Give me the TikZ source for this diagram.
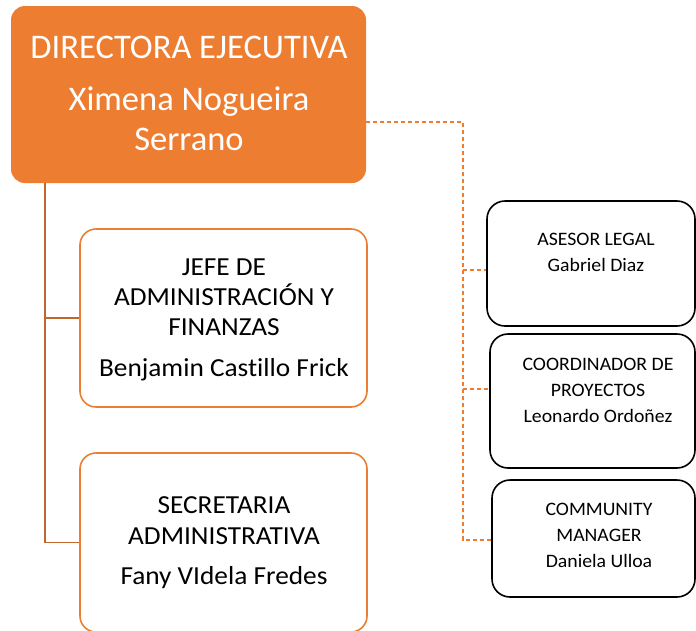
\documentclass[tikz,border=0pt]{standalone}
\usepackage{fontspec}
\setmainfont[Ligatures=NoCommon]{Carlito}
\newfontfamily\midfont[Ligatures=NoCommon,FakeStretch=1.05]{Carlito}
\newfontfamily\smfont[Ligatures=NoCommon,FakeStretch=1.04]{Carlito}
\usetikzlibrary{calc}
\definecolor{orng}{HTML}{ED7D31}
\definecolor{brn}{HTML}{C0672E}
\begin{document}
\begin{tikzpicture}[x=1pt,y=-1pt,
  dirbox/.style={rectangle,rounded corners=14pt,fill=orng,draw=none,inner sep=0pt},
  obox/.style={rectangle,rounded corners=16pt,fill=white,draw=orng,line width=1.6pt,inner sep=0pt},
  kbox/.style={rectangle,rounded corners=18pt,fill=white,draw=black,line width=1.6pt,inner sep=0pt},
  bigtxt/.style={anchor=base,inner sep=0pt,text=white,font=\fontsize{34.5}{38}\selectfont},
  midtxt/.style={anchor=base,inner sep=0pt,text=black,font=\midfont\fontsize{26}{30}\selectfont},
  smalltxt/.style={anchor=base,inner sep=0pt,text=black,font=\smfont\fontsize{19}{26}\selectfont},
  solidconn/.style={draw=brn,line width=1.6pt},
  dashconn/.style={draw=orng,line width=1.1pt,dash pattern=on 4pt off 3pt}]
\useasboundingbox (0,0) rectangle (696,630);
\clip (0,0) rectangle (696,630);
% boxes
\node[dirbox,minimum width=355pt,minimum height=177pt] (dir) at (188.5,94.5) {};
\node[obox,minimum width=287pt,minimum height=178pt] (jefe) at (223.5,318) {};
\node[obox,minimum width=287pt,minimum height=179pt] (sec) at (223.5,542.5) {};
\node[kbox,minimum width=208pt,minimum height=125pt] (ase) at (591,263.5) {};
\node[kbox,minimum width=205pt,minimum height=134pt] (coo) at (592.5,401) {};
\node[kbox,minimum width=203pt,minimum height=117pt] (com) at (593.5,538.5) {};
% texts
\node[bigtxt] (d1) at (189,58) {DIRECTORA EJECUTIVA};
\node[bigtxt] (d2) at (189,110) {Ximena Nogueira};
\node[bigtxt] (d3) at (189,150) {Serrano};
\node[midtxt] (j1) at (224,275) {JEFE DE};
\node[midtxt] (j2) at (224,305) {ADMINISTRACIÓN Y};
\node[midtxt] (j3) at (224,335) {FINANZAS};
\node[midtxt] (j4) at (224,376) {Benjamin Castillo Frick};
\node[midtxt] (s1) at (224,513) {SECRETARIA};
\node[midtxt] (s2) at (224,544) {ADMINISTRATIVA};
\node[midtxt] (s3) at (224,584) {Fany VIdela Fredes};
\node[smalltxt] (a1) at (596,245) {ASESOR LEGAL};
\node[smalltxt] (a2) at (596,271) {Gabriel Diaz};
\node[smalltxt] (c1) at (598,370) {COORDINADOR DE};
\node[smalltxt] (c2) at (598,396) {PROYECTOS};
\node[smalltxt] (c3) at (598,422) {Leonardo Ordoñez};
\node[smalltxt] (m1) at (599,515) {COMMUNITY};
\node[smalltxt] (m2) at (599,541) {MANAGER};
\node[smalltxt] (m3) at (599,567) {Daniela Ulloa};
% solid connectors
\coordinate (trunk) at ($(dir.south west)+(34,0)$);
\draw[solidconn] (trunk) |- (jefe.west);
\draw[solidconn] (trunk) |- (sec.west);
% dashed connectors
\coordinate (bus) at (463,122);
\draw[dashconn] ($(dir.east)+(0,27.5)$) -- (bus) -- (bus |- 0,540) -- (com.west |- 0,540);
\draw[dashconn] (bus |- 0,270) -- (ase.west |- 0,270);
\draw[dashconn] (bus |- 0,389) -- (coo.west |- 0,389);
\end{tikzpicture}
\end{document}
